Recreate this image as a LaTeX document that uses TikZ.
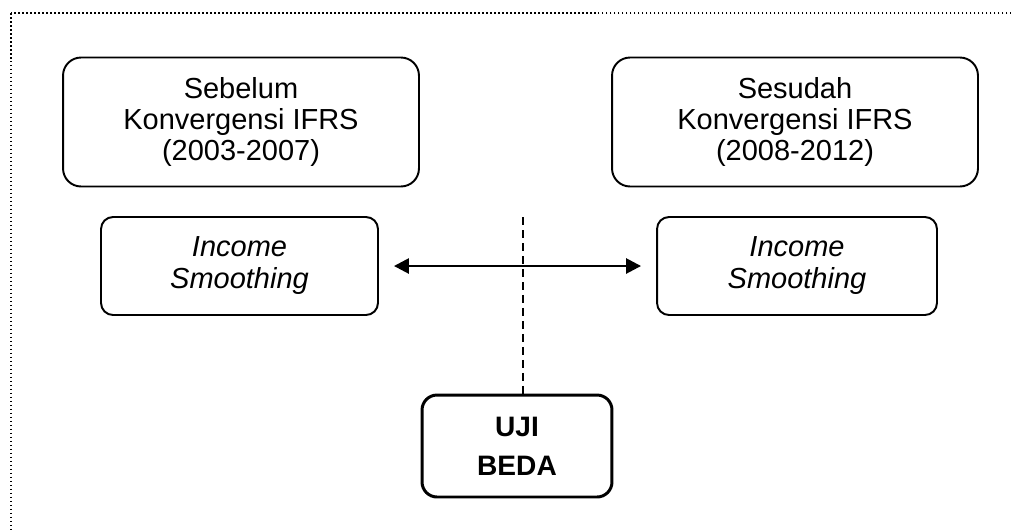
\documentclass[tikz,border=0pt]{standalone}
\usepackage{fontspec}
\setmainfont{Liberation Sans}
\usetikzlibrary{arrows.meta}

\begin{document}
\begin{tikzpicture}[
    x=0.02cm, y=-0.02cm,
    box/.style={draw, line width=1.1pt, align=center, inner sep=0pt,
      font=\fontsize{16.5}{17.6}\selectfont},
    period/.style={box, rounded corners=0.36cm, minimum height=2.58cm},
    method/.style={box, rounded corners=0.24cm, minimum height=1.96cm,
      font=\fontsize{16.5}{18.2}\selectfont\itshape},
    testbox/.style={box, line width=1.7pt, rounded corners=0.3cm,
      minimum width=3.8cm, minimum height=2.04cm,
      font=\fontsize{16}{22}\selectfont\bfseries},
    link/.style={line width=1.5pt, {Triangle[length=0.3cm, width=0.3cm]}-{Triangle[length=0.3cm, width=0.3cm]}, shorten <=0.3cm, shorten >=0.3cm},
    split/.style={line width=0.9pt, dash pattern=on 0.16cm off 0.1cm},
  ]

  \useasboundingbox (0,0) rectangle (1011,529);

  % frame (only top and left side inside the page)
  \begin{scope}
    \clip (0,0) rectangle (1011,529);
    \draw[line width=0.8pt, dash pattern=on 0.03cm off 0.05cm] (11,13) rectangle (1040,560);
  \end{scope}

  % --- periods ---
  \node[period, minimum width=7.12cm] (pre) at (241,122)
    {Sebelum\\Konvergensi IFRS\\(2003-2007)};
  \node[period, minimum width=7.32cm] (post) at (795,122)
    {Sesudah\\Konvergensi IFRS\\(2008-2012)};

  % --- income smoothing ---
  \node[method, minimum width=5.54cm] (ispre) at (239.5,266) {Income\\Smoothing};
  \node[method, minimum width=5.6cm] (ispost) at (797,266) {Income\\Smoothing};
  \draw[link] (ispre.east) -- (ispost.west);

  % --- test ---
  \node[testbox] (uji) at (517,446) {UJI\\BEDA};
  \coordinate (dtop) at (523,217);
  \draw[split] (dtop) -- (dtop |- uji.north);

\end{tikzpicture}
\end{document}
